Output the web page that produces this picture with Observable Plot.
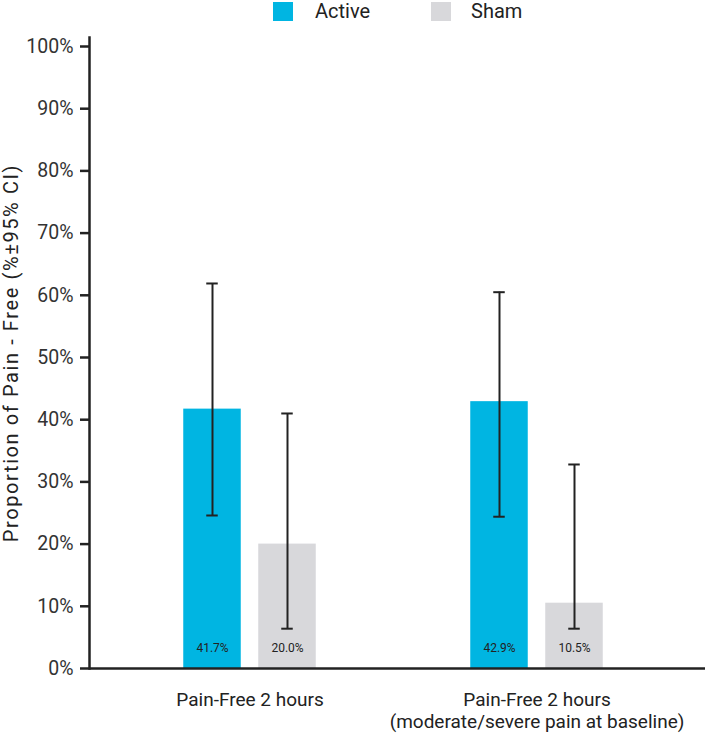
<!DOCTYPE html>
<html>
<head>
<meta charset="utf-8">
<script src="https://cdn.jsdelivr.net/npm/d3@7"></script>
<script src="https://cdn.jsdelivr.net/npm/@observablehq/plot@0.6"></script>
<style>
  body { margin: 0; background: #fff; font-family: Roboto, "Noto Sans", sans-serif; color: #222; }
  #legend { position: relative; height: 24px; width: 708px; font-size: 20px; }
  .sw { position: absolute; top: 2px; width: 20px; height: 19px; }
  .lab { position: absolute; top: 0px; line-height: 22px; }
  #chart { display: block; }
</style>
</head>
<body>
<div id="legend"></div>
<div id="chart"></div>
<script>
const groups = ["Pain-Free 2 hours", "Pain-Free 2 hours\n(moderate/severe pain at baseline)"];
const series = ["Active", "Sham"];
const colors = ["#00b5e2", "#d8d8db"];
const activeValues = [0.417, 0.429];
const shamValues = [0.200, 0.105];
const activeLow = [0.246, 0.244];
const activeHigh = [0.619, 0.605];
const shamLow = [0.064, 0.064];
const shamHigh = [0.410, 0.328];
const valueLabels = [["41.7%", "20.0%"], ["42.9%", "10.5%"]];
const yTicks = [0, 0.1, 0.2, 0.3, 0.4, 0.5, 0.6, 0.7, 0.8, 0.9, 1.0];

const rows = [];
groups.forEach((g, i) => {
  rows.push({group: g, series: "Active", value: activeValues[i], lo: activeLow[i], hi: activeHigh[i], label: valueLabels[i][0]});
  rows.push({group: g, series: "Sham", value: shamValues[i], lo: shamLow[i], hi: shamHigh[i], label: valueLabels[i][1]});
});

// legend
const legend = document.getElementById("legend");
const legendPos = [[273, 315], [431, 471]];
series.forEach((s, i) => {
  const sw = document.createElement("div");
  sw.className = "sw"; sw.style.left = legendPos[i][0] + "px"; sw.style.background = colors[i];
  const t = document.createElement("div");
  t.className = "lab"; t.style.left = legendPos[i][1] + "px"; t.textContent = s;
  legend.appendChild(sw); legend.appendChild(t);
});

const offset = {Active: -37.5, Sham: 37.5};
const barMarks = series.map((s) => Plot.barY(rows.filter(d => d.series === s), {
  x: "group", y: "value", fill: "series",
  insetLeft: 114.75 + offset[s], insetRight: 114.75 - offset[s]
}));
const errMarks = series.flatMap((s) => {
  const data = rows.filter(d => d.series === s);
  return [
    Plot.ruleX(data, {x: "group", y1: "lo", y2: "hi", dx: offset[s], stroke: "#222", strokeWidth: 2}),
    Plot.tickY(data, {x: "group", y: "hi", stroke: "#222", strokeWidth: 2, insetLeft: 137.75 + offset[s], insetRight: 137.75 - offset[s]}),
    Plot.tickY(data, {x: "group", y: "lo", stroke: "#222", strokeWidth: 2, insetLeft: 137.75 + offset[s], insetRight: 137.75 - offset[s]})
  ];
});
const labelMarks = series.map((s) => Plot.text(rows.filter(d => d.series === s), {
  x: "group", y: 0, text: "label", dx: offset[s], dy: -20, fontSize: 12, fill: "#222"
}));

const chart = Plot.plot({
  width: 708,
  height: 714,
  marginLeft: 89,
  marginRight: 3,
  marginTop: 13,
  marginBottom: 70,
  style: {fontFamily: "Roboto, 'Noto Sans', sans-serif", fontSize: "16px", color: "#222", background: "#fff"},
  x: {domain: groups, range: [105.25, 680.25], padding: 0, label: null},
  y: {domain: [0, 1], range: [644, 22]},
  color: {domain: series, range: colors},
  marks: [
    ...barMarks,
    ...errMarks,
    ...labelMarks,
    Plot.frame({anchor: "left", stroke: "#222", strokeWidth: 2.5}),
    Plot.ruleY([0], {stroke: "#222", strokeWidth: 2.5}),
    Plot.axisY({ticks: yTicks, tickFormat: d => Math.round(d * 100) + "%", tickSize: 9, tickPadding: 7, strokeWidth: 2.5, stroke: "#222", label: "Proportion of Pain - Free (%±95% CI)", labelAnchor: "center", labelOffset: 86, labelArrow: "none"}),
    Plot.axisX({tickSize: 0, tickPadding: 22, lineHeight: 1.16, label: null})
  ]
});
const sel = d3.select(chart);
sel.selectAll('g[aria-label="y-axis tick label"], g[aria-label="y-axis tick label"] text').style("font-size", "19.5px").style("fill", "#333");
sel.selectAll('g[aria-label="y-axis label"], g[aria-label="y-axis label"] text').style("font-size", "20px").style("letter-spacing", "1.6px").style("fill", "#222");
sel.selectAll('g[aria-label="x-axis tick label"], g[aria-label="x-axis tick label"] text').style("font-size", "19px").style("fill", "#222");
document.getElementById("chart").appendChild(chart);
</script>
</body>
</html>
